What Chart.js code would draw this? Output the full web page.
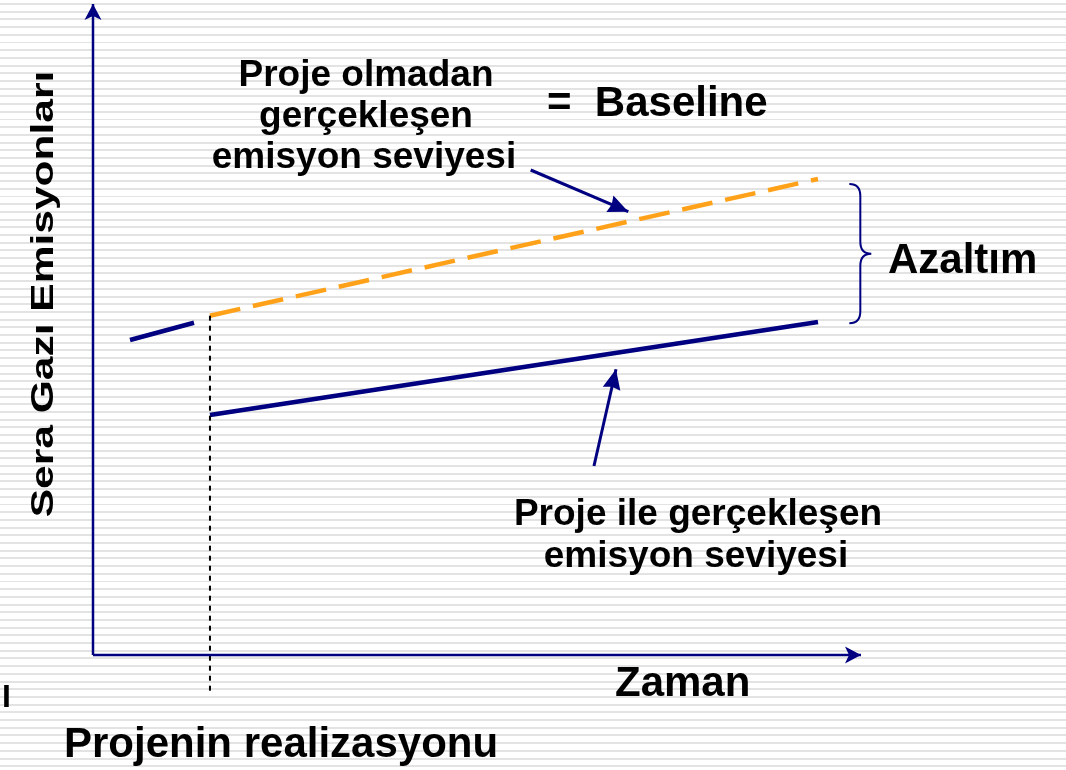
<!DOCTYPE html>
<html>
<head>
<meta charset="utf-8">
<script src="https://cdn.jsdelivr.net/npm/chart.js@4/dist/chart.umd.min.js"></script>
<style>
  html, body { margin: 0; padding: 0; }
  body {
    width: 1066px; height: 770px; overflow: hidden;
    background: repeating-linear-gradient(to bottom,
      #ffffff 0px, #ffffff 3px, #e3e3e3 3px, #e3e3e3 5px, #ffffff 5px, #ffffff 7.7px);
  }
  canvas { display: block; }
</style>
</head>
<body>
<canvas id="emisChart" width="1066" height="770"></canvas>
<script>
// data space: x = zaman (axis runs 0..10), y = sera gazi emisyonlari (axis runs 0..10)
const preProject   = [{x: 0.482, y: 4.839}, {x: 1.315, y: 5.104}];
const baseline     = [{x: 1.523, y: 5.212}, {x: 9.440, y: 7.312}];
const withProject  = [{x: 1.523, y: 3.687}, {x: 9.440, y: 5.115}];
const realization  = [{x: 1.523, y: 5.212}, {x: 1.523, y: -0.57}];
const xAxisLine    = [{x: 0, y: 0}, {x: 10, y: 0}];
const yAxisLine    = [{x: 0, y: 0}, {x: 0, y: 10}];
const pointerTop   = [{x: 5.699, y: 7.450}, {x: 6.970, y: 6.810}];
const pointerBot   = [{x: 6.523, y: 2.903}, {x: 6.810, y: 4.389}];
// brace spans the gap between the two lines at the end
const braceTop = 7.235, braceBottom = 5.095, braceX = 9.848;

const NAVY = '#000080';
const ORANGE = '#FFA21A';

function seg(data, color, width, extra){
	return Object.assign({data: data, borderColor: color, borderWidth: width,
		showLine: true, pointRadius: 0, fill: false, tension: 0}, extra || {});
}

// arrow heads at the last point of datasets that ask for one
const arrowPlugin = {
	id: 'arrows',
	afterDatasetsDraw(chart){
		const ctx = chart.ctx;
		chart.data.datasets.forEach((ds, i) => {
			if (!ds.arrow) return;
			const pts = chart.getDatasetMeta(i).data;
			const a = pts[pts.length - 2], b = pts[pts.length - 1];
			const ang = Math.atan2(b.y - a.y, b.x - a.x);
			const L = ds.arrow.len, H = ds.arrow.half, N = ds.arrow.notch;
			ctx.save();
			ctx.translate(b.x, b.y);
			ctx.rotate(ang);
			ctx.fillStyle = ds.borderColor;
			ctx.beginPath();
			ctx.moveTo(0, 0);
			ctx.lineTo(-L, -H);
			ctx.lineTo(-L + N, 0);
			ctx.lineTo(-L, H);
			ctx.closePath();
			ctx.fill();
			ctx.restore();
		});
	}
};

// curly brace + texts
const labels = [
	{t: 'Proje olmadan', x: 366, y: 86, size: 37, align: 'center'},
	{t: 'gerçekleşen', x: 366, y: 127, size: 37, align: 'center'},
	{t: 'emisyon seviyesi', x: 364, y: 168, size: 37, align: 'center'},
	{t: '=  Baseline', x: 547, y: 116, size: 42, align: 'left'},
	{t: 'Azaltım', x: 888, y: 273, size: 42, align: 'left'},
	{t: 'Proje ile gerçekleşen', x: 698, y: 525, size: 37, align: 'center'},
	{t: 'emisyon seviyesi', x: 696, y: 567, size: 37, align: 'center'},
	{t: 'Zaman', x: 615, y: 696, size: 42, align: 'left'},
	{t: 'Projenin realizasyonu', x: 64, y: 757, size: 42, align: 'left'},
	{t: 'I', x: 2, y: 707, size: 32, align: 'left'}
];

const decoPlugin = {
	id: 'deco',
	afterDraw(chart){
		const ctx = chart.ctx;
		const sx = chart.scales.x, sy = chart.scales.y;
		// brace
		const xl = sx.getPixelForValue(braceX);
		const yt = sy.getPixelForValue(braceTop), yb = sy.getPixelForValue(braceBottom);
		const ym = (yt + yb) / 2, sp = xl + 11, tip = xl + 22, r = 12;
		ctx.save();
		ctx.strokeStyle = NAVY;
		ctx.lineWidth = 2;
		ctx.beginPath();
		ctx.moveTo(xl, yt);
		ctx.quadraticCurveTo(sp, yt, sp, yt + r);
		ctx.lineTo(sp, ym - r);
		ctx.quadraticCurveTo(sp, ym, tip, ym);
		ctx.quadraticCurveTo(sp, ym, sp, ym + r);
		ctx.lineTo(sp, yb - r);
		ctx.quadraticCurveTo(sp, yb, xl, yb);
		ctx.stroke();
		// texts
		ctx.fillStyle = '#000';
		ctx.textBaseline = 'alphabetic';
		labels.forEach(l => {
			ctx.font = 'bold ' + l.size + 'px "Liberation Sans", Arial, sans-serif';
			ctx.textAlign = l.align;
			ctx.fillText(l.t, l.x, l.y);
		});
		// y title, squashed across the text direction
		ctx.translate(53, 294);
		ctx.rotate(-Math.PI / 2);
		ctx.scale(1, 0.73);
		ctx.font = 'bold 42.5px "Liberation Sans", Arial, sans-serif';
		ctx.textAlign = 'center';
		ctx.fillText('Sera Gazı Emisyonları', 0, 0);
		ctx.restore();
	}
};

const chart = new Chart(document.getElementById('emisChart').getContext('2d'), {
	type: 'scatter',
	data: {
		datasets: [
			seg(xAxisLine, NAVY, 2.5, {arrow: {len: 16, half: 8.5, notch: 4}}),
			seg(yAxisLine, NAVY, 2.5, {arrow: {len: 16, half: 8.5, notch: 4}}),
			seg(realization, '#000', 2, {borderDash: [5, 5]}),
			seg(preProject, NAVY, 4.5),
			seg(baseline, ORANGE, 4.5, {borderDash: [31, 13]}),
			seg(withProject, NAVY, 4.5),
			seg(pointerTop, NAVY, 3, {arrow: {len: 20, half: 9, notch: 2}}),
			seg(pointerBot, NAVY, 3, {arrow: {len: 20, half: 9, notch: 2}})
		]
	},
	options: {
		responsive: false,
		animation: false,
		events: [],
		layout: {padding: 0},
		plugins: {legend: {display: false}, tooltip: {enabled: false}},
		scales: {
			x: {type: 'linear', display: false, min: -1.2109, max: 12.6693},
			y: {type: 'linear', display: false, min: -1.7665, max: 10.0614}
		}
	},
	plugins: [arrowPlugin, decoPlugin]
});
</script>
</body>
</html>
